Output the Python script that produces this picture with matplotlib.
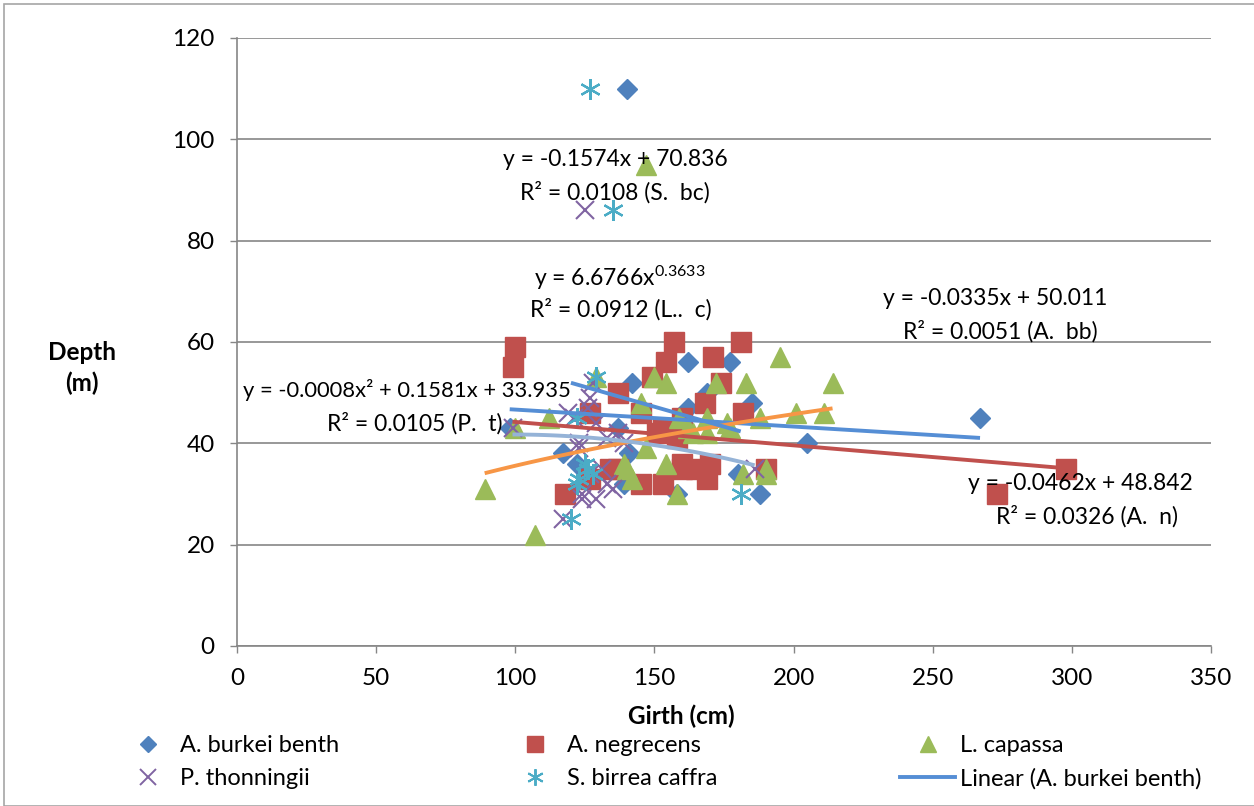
import matplotlib
matplotlib.use("Agg")
import matplotlib.pyplot as plt
from matplotlib.lines import Line2D
from matplotlib.patches import Rectangle
import numpy as np

plt.rcParams['font.family'] = ['Lato', 'DejaVu Sans']
plt.rcParams['mathtext.fontset'] = 'custom'
plt.rcParams['mathtext.rm'] = 'Lato'
plt.rcParams['mathtext.it'] = 'Lato'

# ---------------- data ----------------
abb_x = [140, 98, 117, 122, 142, 162, 177, 137, 141, 139, 162, 169, 185, 205, 180, 188, 158, 267]
abb_y = [110, 43, 38, 36, 52, 56, 56, 43, 38, 32, 47, 50, 48, 40, 34, 30, 30, 45]

an_x = [100, 99, 157, 181, 154, 171, 149, 174, 137, 168, 127, 145, 182, 160, 153, 158,
        118, 127, 134, 137, 145, 153, 160, 165, 170, 169, 190, 273, 298, 160, 151]
an_y = [59, 55, 60, 60, 56, 57, 53, 52, 50, 48, 46, 46, 46, 45, 43, 41,
        30, 33, 35, 35, 32, 32, 36, 35, 36, 33, 35, 30, 35, 35, 42]

lc_x = [89, 107, 147, 100, 112, 129, 145, 150, 154, 147, 140, 142, 154, 158, 172, 159,
        169, 176, 195, 214, 183, 201, 211, 188, 164, 177, 190, 182, 190, 139, 162, 169]
lc_y = [31, 22, 95, 43, 45, 53, 48, 53, 52, 39, 35, 33, 36, 30, 52, 45,
        45, 44, 57, 52, 52, 46, 46, 45, 42, 43, 34, 34, 35, 36, 43, 42]

pt_x = [125, 127, 119, 126, 133, 123, 137, 135, 124, 117, 131, 123, 124, 129, 133, 127, 121, 139, 186, 128, 129, 99]
pt_y = [86, 49, 46, 47, 41, 40, 42, 31, 30, 25, 35, 39, 29, 29, 32, 34, 45, 40, 35, 52, 44, 43]

sbc_x = [127, 135, 129, 122, 125, 128, 126, 122, 120, 181, 123]
sbc_y = [110, 86, 53, 45, 36, 34, 35, 32, 25, 30, 33]

# trendline coefficients (from the chart's equation labels)
abb_lin = [-0.0335, 50.011]
an_lin = [-0.0462, 48.842]
lc_pow = [6.6766, 0.3633]
pt_poly = [-0.0008, 0.1581, 33.935]
sbc_lin = [-0.1574, 70.836]

x_ticks = [0, 50, 100, 150, 200, 250, 300, 350]
y_ticks = [0, 20, 40, 60, 80, 100, 120]

series_labels = ['A. burkei benth', 'A. negrecens', 'L. capassa', 'P. thonningii',
                 'S. birrea caffra', 'Linear (A. burkei benth)']

# colours
C_BLUE = '#4F81BD'
C_RED = '#C0504D'
C_GREEN = '#9BBB59'
C_PURPLE = '#8064A2'
C_CYAN = '#4BACC6'
C_TL_BLUE = '#558ED5'
C_TL_ORANGE = '#F79646'
C_TL_LIGHT = '#95B3D7'
GRID = '#868686'

W, H = 1254, 806
fig = plt.figure(figsize=(W / 100, H / 100), dpi=100)
ax = fig.add_axes([237 / W, 1 - 646 / H, (1211 - 237) / W, (646 - 38) / H])

ax.set_xlim(0, 350)
ax.set_ylim(0, 120)

# markers
ax.plot(abb_x, abb_y, 'D', ms=10, color=C_BLUE, mec=C_BLUE, ls='none', zorder=3)
ax.plot(an_x, an_y, 's', ms=14, color=C_RED, mec=C_RED, ls='none', zorder=3)
ax.plot(lc_x, lc_y, '^', ms=14, color=C_GREEN, mec=C_GREEN, ls='none', zorder=3)
ax.plot(pt_x, pt_y, 'x', ms=13, color=C_PURPLE, mew=1.5, ls='none', zorder=3)
ax.plot(sbc_x, sbc_y, marker=(6, 2, 0), ms=15, color=C_CYAN, mew=1.6, ls='none', zorder=3)

# trendlines
def xr(xs):
    return np.linspace(min(xs), max(xs), 100)

lw_tl = 2.8
xx = xr(abb_x)
ax.plot(xx, np.polyval(abb_lin, xx), color=C_TL_BLUE, lw=lw_tl, zorder=4, solid_capstyle='butt')
xx = xr(an_x)
ax.plot(xx, np.polyval(an_lin, xx), color=C_RED, lw=lw_tl, zorder=4, solid_capstyle='butt')
xx = xr(lc_x)
ax.plot(xx, lc_pow[0] * xx ** lc_pow[1], color=C_TL_ORANGE, lw=lw_tl, zorder=4, solid_capstyle='butt')
xx = xr(pt_x)
ax.plot(xx, np.polyval(pt_poly, xx), color=C_TL_LIGHT, lw=lw_tl, zorder=4, solid_capstyle='butt')
xx = xr(sbc_x)
ax.plot(xx, np.polyval(sbc_lin, xx), color=C_TL_BLUE, lw=lw_tl, zorder=4, solid_capstyle='butt')

# axes style
ax.set_xticks(x_ticks)
ax.set_yticks(y_ticks)
ax.tick_params(axis='both', labelsize=17.5, labelcolor='black', color=GRID,
               length=5, width=1, direction='out')
ax.tick_params(axis='x', pad=11)
ax.tick_params(axis='y', pad=11)
for s in ['top', 'right']:
    ax.spines[s].set_visible(False)
for s in ['left', 'bottom']:
    ax.spines[s].set_color(GRID)
    ax.spines[s].set_linewidth(1.2)
ax.yaxis.grid(True, color=GRID, lw=1.2)
ax.set_axisbelow(True)


def ftext(px, py, s, **kw):
    fig.text(px / W, 1 - py / H, s, **kw)


# equation labels
lkw = dict(fontsize=16.5, ha='center', va='center', zorder=6)
ftext(615, 160, 'y = -0.1574x + 70.836', **lkw)
ftext(615, 192, 'R² = 0.0108 (S.  bc)', **lkw)
ftext(620, 278, r'y = 6.6766x$^{0.3633}$', **lkw)
ftext(621, 309, 'R² = 0.0912 (L..  c)', **lkw)
ftext(995, 298, 'y = -0.0335x + 50.011', **lkw)
ftext(1000, 331, 'R² = 0.0051 (A.  bb)', **lkw)
ftext(407, 390, 'y = -0.0008x² + 0.1581x + 33.935', fontsize=15.8, ha='center', va='center', zorder=6)
ftext(415, 423, 'R² = 0.0105 (P.  t)', **lkw)
ftext(1080, 483, 'y = -0.0462x + 48.842', **lkw)
ftext(1087, 516, 'R² = 0.0326 (A.  n)', **lkw)

# axis titles
ftext(82, 368, 'Depth\n(m)', fontsize=17.5, fontweight='bold', ha='center', va='center', linespacing=1.4)
ftext(681, 716, 'Girth (cm)', fontsize=17.5, fontweight='bold', ha='center', va='center')

# legend (three columns, two rows)
h_abb = Line2D([], [], marker='D', ms=8, color=C_BLUE, ls='none')
h_an = Line2D([], [], marker='s', ms=11, color=C_RED, ls='none')
h_lc = Line2D([], [], marker='^', ms=11, color=C_GREEN, ls='none')
h_pt = Line2D([], [], marker='x', ms=11, color=C_PURPLE, mew=1.4, ls='none')
h_sbc = Line2D([], [], marker=(6, 2, 0), ms=12, color=C_CYAN, mew=1.4, ls='none')
h_tl = Line2D([], [], color=C_TL_BLUE, lw=2.8)

cols = [([h_abb, h_pt], [series_labels[0], series_labels[3]], 120),
        ([h_an, h_sbc], [series_labels[1], series_labels[4]], 507),
        ([h_lc, h_tl], [series_labels[2], series_labels[5]], 900)]
for hs, ls_, x0 in cols:
    fig.legend(hs, ls_, loc='center left', bbox_to_anchor=(x0 / W, 1 - 762 / H),
               frameon=False, fontsize=17, handlelength=2.33, handletextpad=0.22,
               labelspacing=0.5, borderpad=0, borderaxespad=0)

# outer border
fig.patches.append(Rectangle((4 / W, 0.0), 1.0, 1 - 4 / H, transform=fig.transFigure,
                             fill=False, edgecolor='#A6A6A6', lw=1.2))

fig.savefig('out.png', dpi=100)
